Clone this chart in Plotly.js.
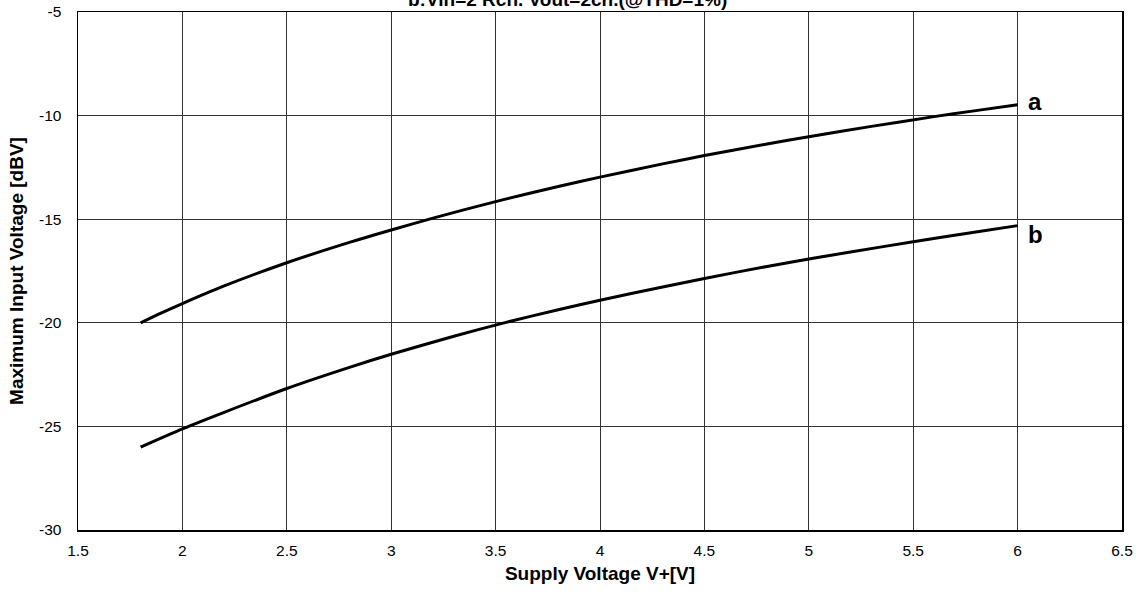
<!DOCTYPE html>
<html>
<head>
<meta charset="utf-8">
<script src="https://cdn.plot.ly/plotly-3.0.1.min.js"></script>
<style>html,body{margin:0;padding:0;background:#fff;}#chart{width:1141px;height:596px;}</style>
</head>
<body>
<div id="chart"></div>
<script>
const supplyA = [1.8, 1.9, 2.0, 2.2, 2.5, 2.8, 3.0, 3.2, 3.5, 3.8, 4.0, 4.3, 4.5, 4.8, 5.0, 5.3, 5.6, 5.8, 6.0];
const curveA  = [-20.0, -19.52, -19.07, -18.22, -17.1, -16.12, -15.52, -14.95, -14.15, -13.42, -12.97, -12.33, -11.93, -11.37, -11.02, -10.52, -10.05, -9.76, -9.48];
const supplyB = [1.8, 2.0, 2.2, 2.5, 2.8, 3.0, 3.3, 3.55, 3.8, 4.0, 4.3, 4.5, 4.8, 5.0, 5.2, 5.5, 5.8, 6.0];
const curveB  = [-26.0, -25.12, -24.32, -23.17, -22.15, -21.52, -20.65, -19.98, -19.37, -18.91, -18.27, -17.86, -17.28, -16.92, -16.58, -16.09, -15.62, -15.31];
const curveLabels = ["a", "b"];
const labelY = [-9.3, -15.75];
const xTickVals = [1.5, 2, 2.5, 3, 3.5, 4, 4.5, 5, 5.5, 6, 6.5];
const xTickText = ["1.5", "2", "2.5", "3", "3.5", "4", "4.5", "5", "5.5", "6", "6.5"];
const yTickVals = [-30, -25, -20, -15, -10, -5];
const yTickText = ["-30", "-25", "-20", "-15", "-10", "-5"];
const titleText = "b:Vin=2 Rch. Vout=2ch.(@THD=1%)";
const xTitle = "Supply Voltage V+[V]";
const yTitle = "Maximum Input Voltage [dBV]";

const sans = "'Liberation Sans', Arial, sans-serif";
const tickFont = {family: sans, size: 15.5, color: "#000"};
const titleFont = {family: sans, size: 19, color: "#000", weight: "bold"};

const traces = [
  {x: supplyA, y: curveA, mode: "lines", line: {color: "#000", width: 3, shape: "spline", smoothing: 0.8}, hoverinfo: "skip"},
  {x: supplyB, y: curveB, mode: "lines", line: {color: "#000", width: 3, shape: "spline", smoothing: 0.8}, hoverinfo: "skip"}
];

const layout = {
  width: 1141, height: 596,
  margin: {l: 78, r: 19, t: 12, b: 66},
  paper_bgcolor: "#fff", plot_bgcolor: "#fff",
  showlegend: false,
  xaxis: {
    range: [1.5, 6.5], tickmode: "array", tickvals: xTickVals, ticktext: xTickText,
    showgrid: true, gridcolor: "#333", gridwidth: 1,
    zeroline: false, showline: true, linecolor: "#000", linewidth: 1.5, mirror: true,
    ticks: "", ticklabelstandoff: 6, tickfont: tickFont,
    title: {text: xTitle, font: titleFont, standoff: 8}
  },
  yaxis: {
    range: [-30, -5], tickmode: "array", tickvals: yTickVals, ticktext: yTickText,
    showgrid: true, gridcolor: "#333", gridwidth: 1,
    zeroline: false, showline: true, linecolor: "#000", linewidth: 1.5, mirror: true,
    ticks: "", ticklabelstandoff: 12, tickfont: tickFont,
    title: {text: yTitle, font: titleFont, standoff: 10}
  },
  annotations: [
    {text: titleText, xref: "paper", yref: "paper", x: 0.469, y: 1.0, xanchor: "center", yanchor: "bottom",
     showarrow: false, font: {family: sans, size: 19, color: "#000", weight: "bold"}},
    {text: curveLabels[0], x: 6.04, y: labelY[0], xref: "x", yref: "y", xanchor: "left", yanchor: "middle", showarrow: false,
     font: {family: sans, size: 24, color: "#000", weight: "bold"}},
    {text: curveLabels[1], x: 6.04, y: labelY[1], xref: "x", yref: "y", xanchor: "left", yanchor: "middle", showarrow: false,
     font: {family: sans, size: 24, color: "#000", weight: "bold"}}
  ]
};

Plotly.newPlot("chart", traces, layout, {staticPlot: true, displayModeBar: false});
</script>
</body>
</html>
